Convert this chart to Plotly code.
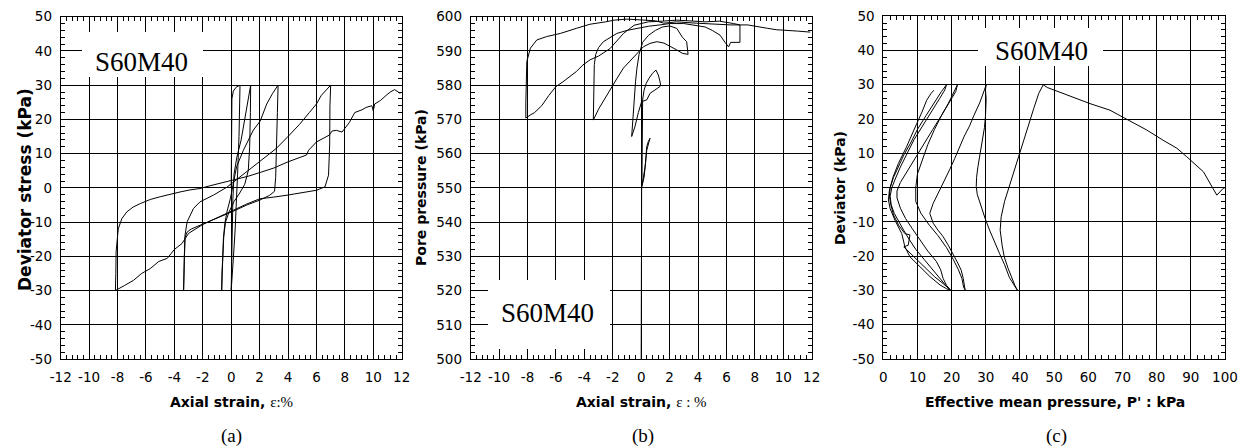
import plotly.graph_objects as go

# ---------------- Panel (a): deviator stress vs axial strain ----------------
strain_a = [
    0, 0.0, 0.01, 0.02, 0.05, 0.15, 0.35, 0.62,
    0.6, 0.55, 0.45, 0.4, 0.28, 0.16, 0.05, 0.0,
    0.03, 0.07, 0.12, 0.2, 0.4, 0.7, 0.95, 1.15, 1.3, 1.37,
    1.35, 1.3, 1.2, 0.95, 0.6, 0.2, -0.15, -0.4, -0.52, -0.6, -0.65, -0.67,
    -0.64, -0.6, -0.55, -0.45, -0.3, -0.05, 0.38, 0.86, 1.2, 1.56, 2.04, 2.5, 2.9, 3.2, 3.3,
    3.25, 3.2, 3.13, 3.05, 2.7, 2.0, 1.1, 0.16, -1.0, -2.18, -2.8, -3.1, -3.25, -3.3, -3.35,
    -3.32, -3.28, -3.25, -3.1, -2.65, -2.2, -1.24, -0.3, 0.6, 1.5, 2.2, 3.17, 4.0, 4.8, 5.5, 6.0, 6.34, 6.7, 7.0,
    6.95, 6.93, 6.85, 6.6, 6.0, 5.0, 4.0, 3.0, 2.0, 1.0, 0.0, -1.0, -2.0, -3.0, -3.47, -4.0, -4.5, -5.1, -5.7,
    -6.3, -6.87, -7.5, -8.0, -8.15,
    -8.12, -8.1, -7.95, -7.7, -7.34, -6.9, -6.4, -5.7, -5.0, -4.3, -3.6, -2.9, -2.2, -1.5, -0.77, 0.4, 1.2,
    2.04, 3.0, 4.0, 4.7, 5.3, 5.45, 6.0, 6.9, 7.1, 7.4, 7.8, 8.3, 8.7, 9.2, 9.5, 9.9, 10.0, 10.1, 10.5, 10.9,
    11.2, 11.5, 11.7, 11.9,
]
dev_a = [
    0, 8, 16, 22, 26, 28.3, 29.4, 30,
    24, 15, 4, -2, -12, -20, -27, -30,
    -22, -12, -3, 4, 9, 14, 20, 25, 28.5, 30,
    22, 12, 5, 1, -1.5, -4, -7, -10, -14, -19, -25, -30,
    -24, -19.5, -15, -10.5, -7, -3, 6.2, 11, 14, 16.9, 19.5, 24.5, 27.5, 29.5, 30,
    22, 12, 3, -1, -2.2, -3.6, -5.0, -6.8, -8.8, -10.9, -12, -12.9, -14.5, -20, -30,
    -24, -18.7, -13.8, -9.9, -6.0, -4.1, -2.1, 0.2, 3.2, 6, 8.5, 11.5, 15, 18.5, 22, 24.5, 27, 28.8, 30,
    24, 12.5, 3.7, 0.3, -0.7, -1.5, -2.1, -2.7, -3.2, -4.9, -6.9, -8.9, -10.7, -13.3, -16.3, -18, -20.6, -21.5, -23.6,
    -25, -27, -28.5, -29.5, -30,
    -25, -18.7, -12, -9, -7, -5.6, -4.6, -3.4, -2.6, -1.8, -1.2, -0.6, -0.2, 0.6, 1.3, 2.5, 3.4,
    4.5, 5.8, 7.6, 8.8, 9.6, 11.0, 13.4, 15.4, 16.6, 16.8, 16.3, 19.0, 22.0, 22.8, 23.5, 24.0, 22.5, 24.5, 25.5, 27.0,
    28.0, 28.7, 28.2, 27.6,
]

# ---------------- Panel (b): pore pressure vs axial strain ----------------
strain_b = [
    0, 0, 0, 0.01, 0.03, 0.15, 0.27, 0.39, 0.5, 0.62,
    0.5, 0.39, 0.3, 0.2, 0.08, 0.05,
    0.07, 0.09, 0.1, 0.2, 0.35, 0.55, 0.8, 1.04, 1.2, 1.3, 1.37,
    1.32, 1.0, 0.62, 0.39, 0.03, -0.2, -0.44, -0.67,
    -0.6, -0.5, -0.4, -0.3, -0.15, 0.1, 0.5, 1.0, 1.5, 2.0, 2.5, 2.9, 3.2, 3.3,
    2.9, 2.5, 2.0, 1.6, 1.1, 0.62, 0.15, -0.3, -0.8, -1.25, -1.7, -2.2, -2.6, -3.0, -3.37,
    -3.36, -3.34, -3.3, -3.2, -3.0, -2.66, -2.2, -1.72, -1.0, -0.32, 0.5, 1.32, 2.0, 3.0, 3.9, 4.5, 5.0,
    5.55, 5.9, 6.15, 6.3, 6.6, 6.95,
    6.95, 6.95, 6.5, 5.5, 4.5, 3.5, 2.5, 1.5, 0.5, -0.5, -1.25, -2.19, -3.0, -3.6, -4.1, -4.56, -5.0,
    -5.5, -6.0, -6.5, -7.0, -7.5, -7.8, -8.12,
    -8.12, -8.1, -8.05, -7.8, -7.35, -6.65, -5.7, -4.56, -3.6, -2.5, -1.9, -1.0, 0.0, 1.0, 1.6, 2.5,
    3.9, 5.0, 6.3, 7.5, 8.2, 8.9, 9.5, 10.3, 11.0, 11.9,
]
pore_b = [
    500, 515, 530, 542, 550, 553, 556, 561, 563, 564.5,
    563.5, 562, 557, 553, 551, 550.5,
    560, 570, 575.7, 578.5, 580.5, 582, 583.5, 584.4, 583, 581.5, 580,
    579.6, 578.8, 577.6, 575.7, 575.2, 572, 567.9, 565,
    570, 576, 581, 585, 589, 592.5, 594.5, 596, 597, 597.3, 596.6, 594, 592.7, 589,
    589.3, 590.3, 591.5, 592.3, 592.7, 592.2, 591.2, 589.3, 587, 585, 582, 578.6, 576, 573, 569.8,
    575, 582, 586, 589, 591, 592.7, 594, 595.1, 596, 596.6, 597.2, 597.6, 598, 598, 597.5, 597, 596,
    594.6, 592.5, 591.2, 592.5, 592.5, 592.5,
    595, 597.6, 598, 598.7, 598.5, 598.8, 599, 598.7, 598.5, 597.5, 595.1, 590.7, 588.5, 587.4, 585.9, 584, 582.5,
    581, 579.6, 577, 574, 572, 571.3, 570.4,
    575, 581, 586.9, 590.8, 593.2, 594.2, 595.1, 596.6, 597.8, 598.5, 599, 599.3, 599, 598.8, 598.1, 598.5,
    598.1, 597.8, 597.6, 597.6, 597, 596.6, 596.2, 596.1, 595.8, 595.5,
]

# ---------------- Panel (c): deviator vs effective mean pressure ----------------
p_c = [
    100, 99.5, 97.6, 93.7, 88.8, 85.9, 81.9, 77.1, 70.2, 66.3, 60.5, 52.7, 50.2, 48, 46.8,
    45.5, 44, 42.7, 41.3, 39.8, 38.3, 36.9, 35.5, 34.5, 34.2, 34.8, 35.4, 36.5, 37.4, 38.5, 39.3,
    38.8, 36.9, 35.5, 34, 32.5, 31.1, 29.8, 28.6, 27.5, 27.2, 27.3, 27.7, 28.4, 29.1, 29.6, 29.9, 30.1, 29.9, 30.1,
    29.6, 28.2, 26.5, 25.2, 23.7, 22.3, 20.9, 19.4, 18, 16.5, 15.5, 14.6, 13.6, 14.6, 16, 17.5, 19, 20.4, 21.8,
    22.8, 23.4, 23.8, 24,
    23.5, 23, 22, 20.5, 18.5, 16, 13.5, 11, 9.5, 9.5, 10, 11.5, 13, 15, 17, 19, 20.5, 21.7,
    21.2, 19.5, 17, 14.5, 12, 9.5, 7, 5, 4, 4, 5, 6.5, 8.5, 10.5, 13, 15.5, 16.8, 17.5, 18.5, 19.8,
    19.3, 17.5, 15, 12.5, 10, 8, 6, 7.3, 7.8, 6.3, 4.5, 3, 2.2, 1.8, 2, 3, 4.5, 6, 8, 10, 12.5, 15, 17, 18.5,
    18, 16.5, 14, 11.5, 9, 7, 5, 3.5, 2.5, 2, 2.3, 3.2, 4.5, 6, 7.5, 9.5, 12, 14.5, 16.5, 18, 19.5,
    18.5, 16.6, 13.7, 10.7, 7.8, 6.3, 5.4, 3.4, 2, 1.5, 1.8, 2.9, 4.4, 6.8, 8.5, 9.8, 11.3, 12.7, 14, 14.8,
]
q_c = [
    0, -0.2, -2.2, 4.6, 9.0, 11.5, 13.8, 16.8, 20.5, 22.6, 24.5, 27.5, 28.4, 29.2, 30,
    27.5, 23, 18.8, 14.5, 10, 5, 0.3, -4, -8.5, -12.4, -17, -20.2, -23.5, -26, -28.5, -30,
    -29.3, -26.2, -22.5, -19.2, -15.8, -12.4, -9, -5.6, -2, 0.3, 3, 6.1, 10, 14, 17.5, 20.8, 25.7, 28.6, 30,
    28.5, 24.7, 21, 17.9, 15, 12, 8.5, 5.2, 2.3, -0.7, -2.7, -4.6, -7.5, -10.4, -12.4, -14.3, -16.8, -19.2, -22,
    -24.1, -26.5, -29, -30,
    -29, -26.5, -24, -21, -17.5, -14, -11, -7.5, -4, 0, 4, 8.5, 12.5, 17, 21, 24.5, 27.5, 30,
    28, 25, 21, 17, 13, 9, 5, 1.5, -1, -3, -6, -9, -12, -15, -18.5, -21.5, -24, -26.5, -28.5, -30,
    -29.5, -28, -26, -23.5, -21, -19, -17.3, -16.8, -13.8, -13.4, -11, -8, -5, -2.5, 0, 3, 6.5, 9.5, 13, 17, 21, 25, 28, 30,
    28.5, 26, 22, 18, 14, 10, 6, 2.5, 0, -2.5, -5, -7.5, -10, -12.5, -15, -18, -21, -24, -26.5, -28.5, -30,
    -29.5, -28.4, -26, -23.1, -20.2, -17.2, -13.4, -9.5, -6.1, -3.6, -0.7, 3.2, 7, 11.9, 15.5, 18.7, 22, 25.5, 27.5, 28.4,
]

# tick values
x_ticks_ab = [-12, -10, -8, -6, -4, -2, 0, 2, 4, 6, 8, 10, 12]
y_ticks_ac = [-50, -40, -30, -20, -10, 0, 10, 20, 30, 40, 50]
y_ticks_b = [500, 510, 520, 530, 540, 550, 560, 570, 580, 590, 600]
x_ticks_c = [0, 10, 20, 30, 40, 50, 60, 70, 80, 90, 100]

W, H = 1251, 447


def dom_x(a, b):
    return [a / W, b / W]


def dom_y(top, bottom):
    return [1 - bottom / H, 1 - top / H]


line_style = dict(color="black", width=1)
fig = go.Figure()
fig.add_trace(go.Scatter(x=strain_a, y=dev_a, mode="lines", line=line_style,
                         xaxis="x", yaxis="y", showlegend=False, hoverinfo="skip"))
fig.add_trace(go.Scatter(x=strain_b, y=pore_b, mode="lines", line=line_style,
                         xaxis="x2", yaxis="y2", showlegend=False, hoverinfo="skip"))
fig.add_trace(go.Scatter(x=p_c, y=q_c, mode="lines", line=line_style,
                         xaxis="x3", yaxis="y3", showlegend=False, hoverinfo="skip"))

tickfont = dict(family="DejaVu Sans", size=13.5, color="black")


def axis(rng, tickvals, minor_dtick, domain, anchor, is_x):
    return dict(
        range=rng, domain=domain, anchor=anchor, tickmode="array", tickvals=tickvals,
        ticktext=[str(v) for v in tickvals],
        showline=True, linecolor="black", linewidth=1, mirror="allticks",
        ticks="inside", ticklen=6, tickcolor="black", tickwidth=1,
        showgrid=True, gridcolor="black", gridwidth=1, zeroline=False,
        tickfont=tickfont, ticklabelstandoff=6 if is_x else 5,
        minor=dict(ticks="inside", ticklen=4, tickcolor="black", tickwidth=1,
                   dtick=minor_dtick, tick0=rng[0], showgrid=False),
        fixedrange=True, automargin=False,
    )


ya_dom = dom_y(16.7, 359)
fig.update_layout(
    width=W, height=H, margin=dict(l=0, r=0, t=0, b=0, pad=0, autoexpand=False),
    paper_bgcolor="white", plot_bgcolor="white",
    xaxis=axis([-12, 12], x_ticks_ab, 0.4, dom_x(60.7, 401.7), "y", True),
    yaxis=axis([-50, 50], y_ticks_ac, 2, ya_dom, "x", False),
    xaxis2=axis([-12, 12], x_ticks_ab, 0.4, dom_x(470.7, 811.7), "y2", True),
    yaxis2=axis([500, 600], y_ticks_b, 2, ya_dom, "x2", False),
    xaxis3=axis([0, 100], x_ticks_c, 2, dom_x(883.3, 1225), "y3", True),
    yaxis3=axis([-50, 50], y_ticks_ac, 2, dom_y(16.2, 359), "x3", False),
)

# white label boxes
boxes = [(82, 32, 203, 77), (488, 280, 610, 349), (978, 28, 1103, 66)]
for (x0, y0, x1, y1) in boxes:
    fig.add_shape(type="rect", xref="paper", yref="paper",
                  x0=x0 / W, x1=x1 / W, y0=1 - y1 / H, y1=1 - y0 / H,
                  fillcolor="white", line=dict(width=0), layer="above")


def ann(text, x, y, size, family, textangle=0, bold=False):
    fig.add_annotation(text=text, xref="paper", yref="paper", x=x / W, y=1 - y / H,
                       xanchor="center", yanchor="middle", showarrow=False, textangle=textangle,
                       font=dict(family=family, size=size, color="black",
                                 weight="bold" if bold else "normal"))


serif = "Liberation Serif"
sans = "DejaVu Sans"
ann("S60M40", 141.7, 62, 27, serif)
ann("S60M40", 547.5, 313, 27, serif)
ann("S60M40", 1041, 51.5, 27, serif)

ann("Axial strain, <span style='font-family:Liberation Serif;font-weight:normal;font-size:15px'>ε:%</span>",
    231, 402, 14, sans, bold=True)
ann("Axial strain, <span style='font-family:Liberation Serif;font-weight:normal;font-size:15px'>ε : %</span>",
    641, 402, 14, sans, bold=True)
ann("Effective mean pressure, P' : kPa", 1054.5, 402, 14, sans, bold=True)

ann("Deviator stress (kPa)", 25, 190, 17, sans, textangle=-90, bold=True)
ann("Pore pressure (kPa)", 421, 188, 14, sans, textangle=-90, bold=True)
ann("Deviator (kPa)", 840, 188, 14, sans, textangle=-90, bold=True)

ann("(a)", 231, 436, 19, serif)
ann("(b)", 643, 436, 19, serif)
ann("(c)", 1056, 436, 19, serif)

fig.write_html("out.html")
